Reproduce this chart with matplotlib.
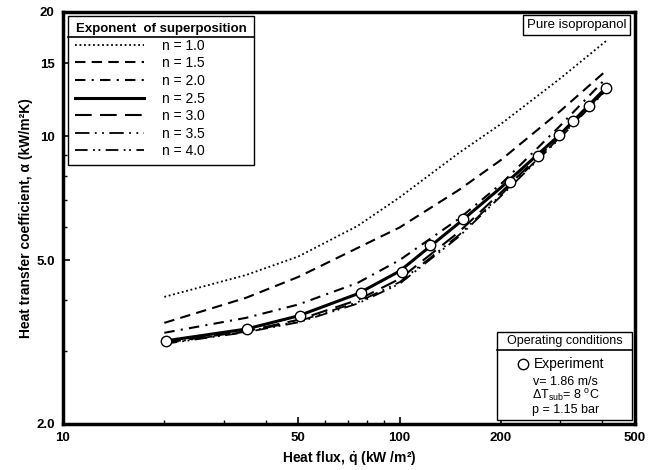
import matplotlib
matplotlib.use('Agg')
import matplotlib.pyplot as plt
import matplotlib.patches as patches
from matplotlib.ticker import FixedLocator, NullFormatter

plt.rcParams['font.family'] = ['Liberation Sans', 'DejaVu Sans']
plt.rcParams['mathtext.fontset'] = 'custom'
plt.rcParams['mathtext.rm'] = 'Liberation Sans'
plt.rcParams['mathtext.it'] = 'Liberation Sans:italic'
plt.rcParams['mathtext.bf'] = 'Liberation Sans:bold'

# model curves (heat flux in kW/m2, alpha in kW/m2K)
q_model = [20, 35, 50, 75, 100, 150, 200, 300, 410]
alpha_n10 = [4.07, 4.60, 5.10, 6.05, 7.10, 9.10, 10.7, 13.8, 17.0]
alpha_n15 = [3.52, 4.05, 4.55, 5.35, 6.00, 7.40, 8.75, 11.5, 14.4]
alpha_n20 = [3.33, 3.62, 3.90, 4.40, 5.00, 6.30, 7.65, 10.6, 13.8]
alpha_n25 = [3.18, 3.40, 3.66, 4.14, 4.70, 6.15, 7.50, 10.1, 13.1]
alpha_n30 = [3.15, 3.36, 3.58, 4.00, 4.50, 5.85, 7.30, 10.0, 13.0]
alpha_n35 = [3.14, 3.35, 3.55, 3.95, 4.42, 5.75, 7.20, 9.95, 12.95]
alpha_n40 = [3.13, 3.34, 3.53, 3.92, 4.38, 5.70, 7.15, 9.90, 12.9]

# experiment
q_exp = [20.2, 35.2, 50.6, 76.7, 101.6, 123, 154, 212.6, 257.6, 297, 327, 365, 410]
alpha_exp = [3.18, 3.40, 3.66, 4.16, 4.68, 5.44, 6.29, 7.73, 8.94, 10.06, 10.88, 11.83, 13.08]

labels = ['n = 1.0', 'n = 1.5', 'n = 2.0', 'n = 2.5', 'n = 3.0', 'n = 3.5', 'n = 4.0']
series = [alpha_n10, alpha_n15, alpha_n20, alpha_n25, alpha_n30, alpha_n35, alpha_n40]
styles = [(0, (1, 1.5)), (0, (5, 3)), (0, (5, 3, 1, 3)), '-', (0, (8, 4)),
          (0, (8, 3, 1, 3, 1, 3)), (0, (7, 3, 1, 2, 1, 3))]
widths = [1.3, 1.5, 1.5, 2.2, 1.5, 1.3, 1.3]

fig = plt.figure(figsize=(6.56, 4.70), dpi=100)
ax = fig.add_axes([63/656, 46/470, 572/656, 412/470])

handles = []
for y, lab, ls, lw in zip(series, labels, styles, widths):
    h, = ax.plot(q_model, y, color='black', linestyle=ls, linewidth=lw, label=lab)
    handles.append(h)

ax.plot(q_exp, alpha_exp, 'o', ms=7.5, mfc='white', mec='black', mew=1, zorder=4)

ax.set_xscale('log')
ax.set_yscale('log')
ax.set_xlim(10, 500)
ax.set_ylim(2, 20)

ax.xaxis.set_major_locator(FixedLocator([10, 50, 100, 200, 500]))
ax.xaxis.set_minor_locator(FixedLocator([20, 30, 40, 60, 70, 80, 90, 300, 400]))
ax.set_xticklabels(['10', '50', '100', '200', '500'])
ax.xaxis.set_minor_formatter(NullFormatter())
ax.yaxis.set_major_locator(FixedLocator([2, 5, 10, 15, 20]))
ax.yaxis.set_minor_locator(FixedLocator([3, 4, 6, 7, 8, 9]))
ax.set_yticklabels(['2.0', '5.0', '10', '15', '20'])
ax.yaxis.set_minor_formatter(NullFormatter())

ax.tick_params(which='both', direction='in', top=False, right=False)
ax.tick_params(which='major', length=5, width=1.2, labelsize=9.5, pad=6)
ax.tick_params(which='minor', length=3, width=1)
for lbl in ax.get_xticklabels() + ax.get_yticklabels():
    lbl.set_fontweight('bold')
for sp in ax.spines.values():
    sp.set_linewidth(2.5)

ax.set_xlabel('Heat flux, $\\mathbf{\\dot{q}}$ (kW /m\u00b2)', fontsize=10, fontweight='bold', labelpad=4)
ax.set_ylabel('Heat transfer coefficient, \u03b1 (kW/m\u00b2K)', fontsize=10, fontweight='bold', labelpad=2)

leg = ax.legend(handles=handles, loc='upper left', bbox_to_anchor=(0.0087, 0.633, 0.325, 0.357),
                mode='expand', borderaxespad=0, title='Exponent  of superposition', fontsize=10,
                title_fontproperties={'weight': 'bold', 'size': 9.5},
                handlelength=5.0, handletextpad=1.3, labelspacing=0.26,
                fancybox=False, framealpha=1, edgecolor='black', borderpad=0.5)
leg.get_frame().set_linewidth(1)

# separator under the legend title
fig.canvas.draw()
r = fig.canvas.get_renderer()
fb = leg.get_frame().get_window_extent(r)
tb = leg.get_title().get_window_extent(r)
eb = leg.get_texts()[0].get_window_extent(r)
ysep = (tb.y0 + eb.y1) / 2
inv = ax.transAxes.inverted()
(x0a, ya), (x1a, _) = inv.transform([(fb.x0, ysep), (fb.x1, ysep)])
ax.plot([x0a, x1a], [ya, ya], transform=ax.transAxes, color='black',
        lw=1.2, zorder=6, clip_on=False)

ax.text(0.985, 0.982, 'Pure isopropanol', transform=ax.transAxes, ha='right', va='top',
        fontsize=9.5, bbox=dict(boxstyle='square,pad=0.3', fc='white', ec='black', lw=1))

# operating conditions box
ax.add_patch(patches.Rectangle((0.759, 0.0097), 0.236, 0.214, transform=ax.transAxes,
                               fc='white', ec='black', lw=1, zorder=5))
ax.plot([0.759, 0.995], [0.1796, 0.1796], transform=ax.transAxes, color='black', lw=1.2, zorder=6)
ax.text(0.877, 0.202, 'Operating conditions', transform=ax.transAxes, ha='center', va='center',
        fontsize=9, zorder=7)
ax.plot([0.805], [0.146], 'o', transform=ax.transAxes, ms=7.5, mfc='white', mec='black',
        mew=1, zorder=7, clip_on=False)
ax.text(0.824, 0.146, 'Experiment', transform=ax.transAxes, ha='left', va='center',
        fontsize=10, zorder=7)
ax.text(0.879, 0.102, 'v= 1.86 m/s', transform=ax.transAxes, ha='center', va='center',
        fontsize=9, zorder=7)
ax.text(0.879, 0.069, '\u0394T$_{\\mathrm{sub}}$= 8 $^{\\mathrm{o}}$C', transform=ax.transAxes,
        ha='center', va='center', fontsize=9, zorder=7)
ax.text(0.879, 0.033, 'p = 1.15 bar', transform=ax.transAxes, ha='center', va='center',
        fontsize=9, zorder=7)

fig.savefig('out.png', dpi=100)
